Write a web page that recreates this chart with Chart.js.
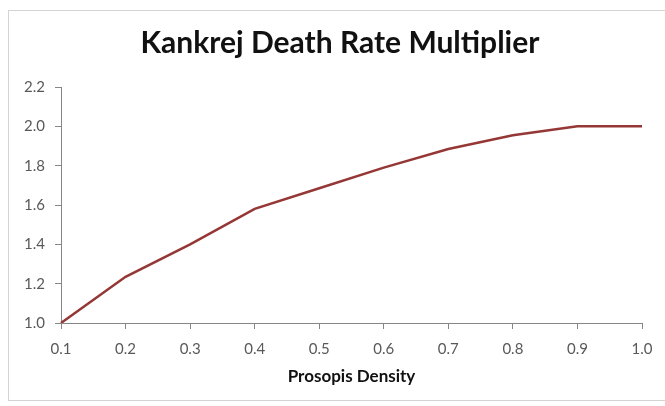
<!DOCTYPE html>
<html>
<head>
<meta charset="utf-8">
<script src="https://cdn.jsdelivr.net/npm/chart.js@4/dist/chart.umd.min.js"></script>
<style>
    html, body { margin: 0; padding: 0; background: #fff; }
    #wrap { position: relative; width: 665px; height: 406px; overflow: hidden; }
    #frame { position: absolute; left: 8px; top: 10px; width: 700px; height: 389px; border: 1px solid #d4d4d4; }
    canvas { position: absolute; left: 0; top: 0; }
</style>
</head>
<body>
<div id="wrap">
    <div id="frame"></div>
    <canvas id="deathChart" width="665" height="406"></canvas>
</div>
<script>
    var densityLabels = ['0.1', '0.2', '0.3', '0.4', '0.5', '0.6', '0.7', '0.8', '0.9', '1.0'];
    var multiplierValues = [1.0, 1.235, 1.40, 1.58, 1.685, 1.79, 1.885, 1.955, 2.0, 2.0];
    var yTicks = [1.0, 1.2, 1.4, 1.6, 1.8, 2.0, 2.2];

    var GREY = '#595959';
    var AXIS = '#868686';

    new Chart(document.getElementById('deathChart').getContext('2d'), {
        type: 'line',
        data: {
            labels: densityLabels,
            datasets: [{
                label: 'Multiplier',
                data: multiplierValues,
                borderColor: '#953735',
                borderWidth: 2.5,
                pointRadius: 0,
                tension: 0,
                fill: false,
            }],
        },
        options: {
            responsive: false,
            animation: false,
            // lewy padding + pusta oś po prawej -> tytuł wycentrowany jak w oryginale
            layout: { padding: { left: 15, right: 0, top: 0, bottom: 19 } },
            plugins: {
                legend: { display: false },
                tooltip: { enabled: false },
                title: {
                    display: true,
                    text: 'Kankrej Death Rate Multiplier',
                    color: '#111',
                    font: { family: 'Lato', size: 30, weight: 'bold', lineHeight: 1.2 },
                    padding: { top: 25.5, bottom: 25.5 },
                },
            },
            scales: {
                x: {
                    type: 'category',
                    offset: false,
                    grid: { display: true, drawOnChartArea: false, drawTicks: true, tickLength: 6, color: AXIS },
                    border: { display: true, color: AXIS, width: 1 },
                    ticks: { color: GREY, font: { family: 'Lato', size: 15 }, padding: 11, maxRotation: 0, autoSkip: false },
                    title: {
                        display: true,
                        text: 'Prosopis Density',
                        color: '#111',
                        font: { family: 'Lato', size: 17, weight: 'bold', lineHeight: 1.2 },
                        padding: { top: 9, bottom: 0 },
                    },
                    afterFit: function (scale) { scale.height = 64; },
                },
                y: {
                    min: yTicks[0],
                    max: yTicks[yTicks.length - 1],
                    grid: { display: true, drawOnChartArea: false, drawTicks: true, tickLength: 6, color: AXIS },
                    border: { display: true, color: AXIS, width: 1 },
                    ticks: {
                        stepSize: 0.2,
                        color: GREY,
                        font: { family: 'Lato', size: 15 },
                        padding: 10,
                        callback: function (v) { return Number(v).toFixed(1); },
                    },
                    afterFit: function (scale) { scale.width = 46; },
                },
                yPad: {
                    type: 'linear',
                    position: 'right',
                    grid: { display: false },
                    border: { display: false },
                    ticks: { display: false },
                    afterFit: function (scale) { scale.width = 23; },
                },
            },
        },
    });
</script>
</body>
</html>
